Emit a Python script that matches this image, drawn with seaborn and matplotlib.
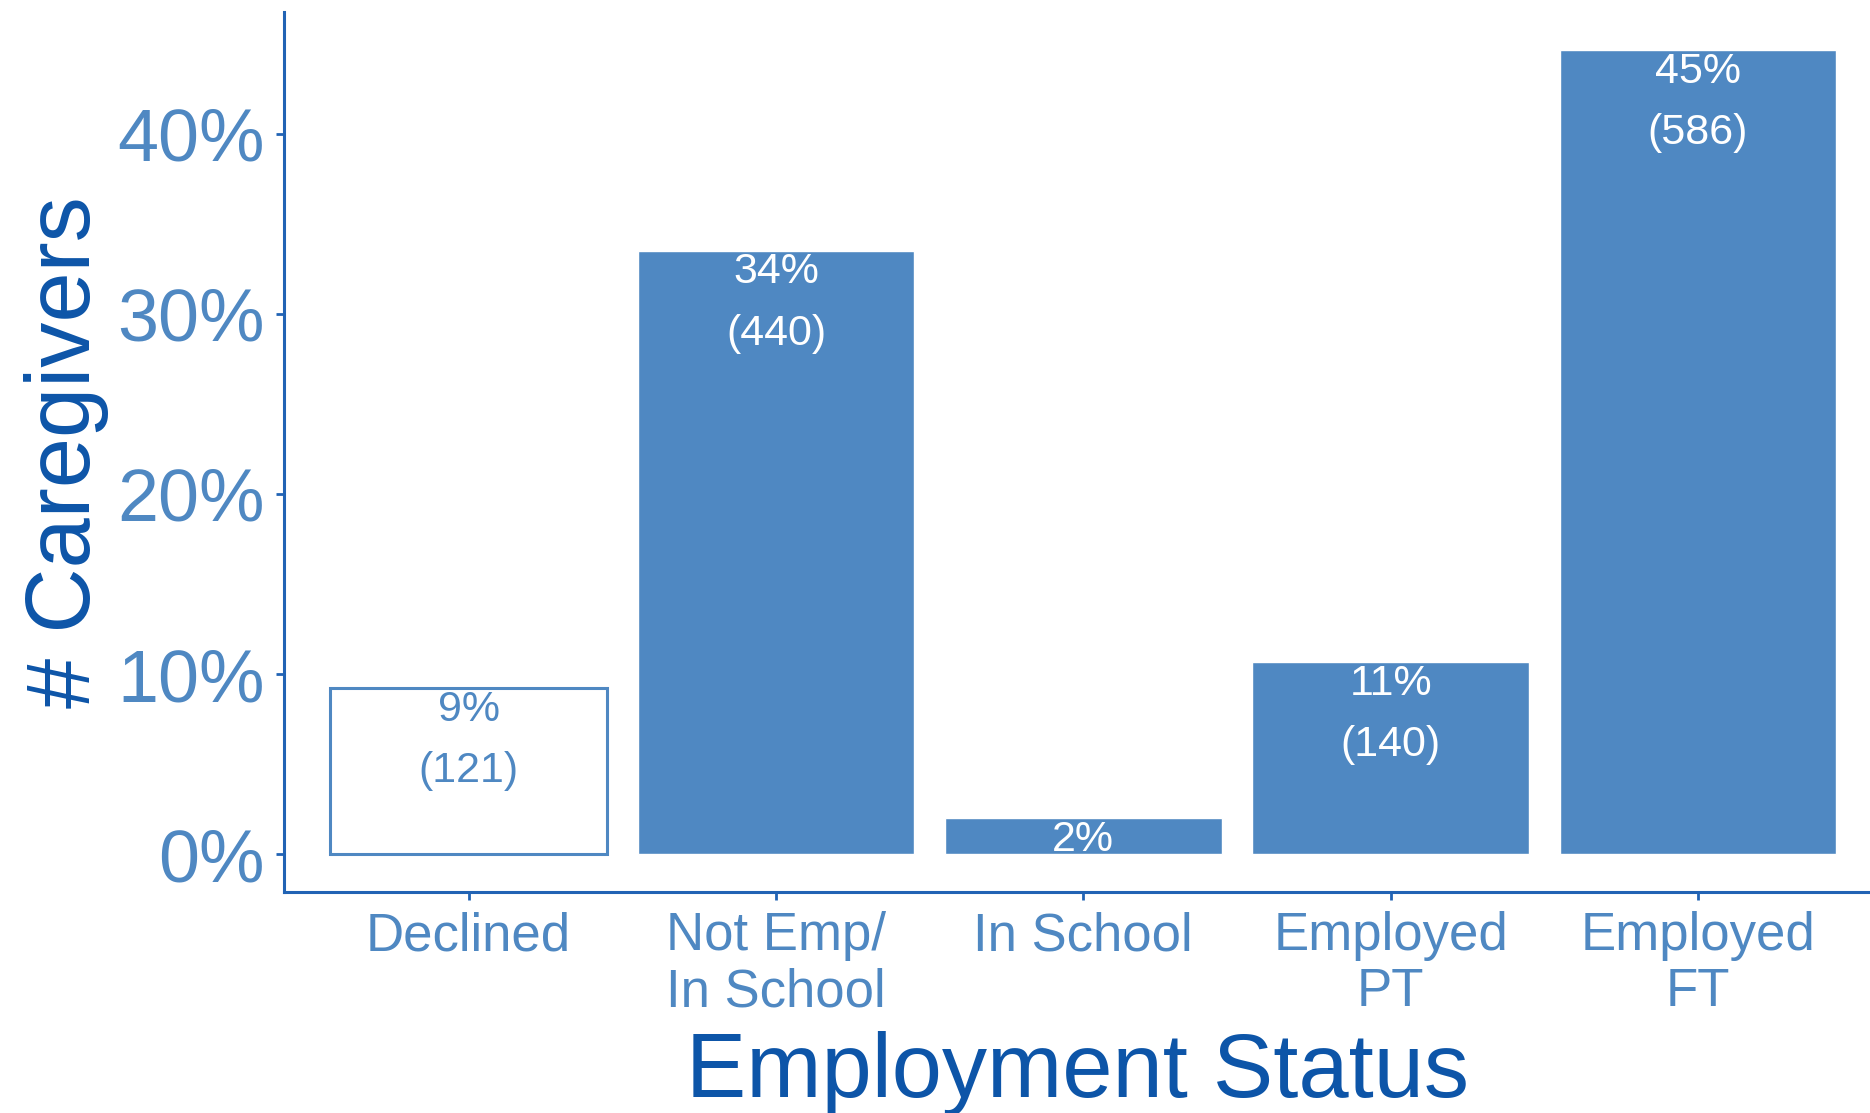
import seaborn as sns
import pandas as pd
import matplotlib.pyplot as plt
from matplotlib.ticker import FuncFormatter

# caregiver counts by employment status
categories = ['Declined', 'Not Emp/\nIn School', 'In School', 'Employed\nPT', 'Employed\nFT']
counts = [121, 440, 26, 140, 586]
show_count = [True, True, False, True, True]

total = sum(counts)
df = pd.DataFrame({'status': categories, 'count': counts})
df['pct'] = df['count'] / total * 100

bar_blue = '#4F88C2'
axis_blue = '#2163B4'
title_blue = '#0D55A8'

sns.set_style('white')
plt.rcParams['font.family'] = ['Liberation Sans', 'DejaVu Sans']

fig = plt.figure(figsize=(18.7, 11.13), dpi=100)
ax = fig.add_axes([0.152, 0.1986, 0.848, 0.7904])

sns.barplot(data=df, x='status', y='pct', color=bar_blue, saturation=1,
            width=0.9, ax=ax)

# the "Declined" bar is drawn hollow
declined = ax.patches[0]
declined.set_facecolor('white')
declined.set_edgecolor(bar_blue)
declined.set_linewidth(2.2)

for i, (p, n, show) in enumerate(zip(df['pct'], counts, show_count)):
    txt = f'{round(p)}%\n({n})' if show else f'{round(p)}%'
    col = bar_blue if i == 0 else 'white'
    ax.annotate(txt, xy=(i, p), xytext=(0, -1), textcoords='offset points',
                ha='center', va='top', fontsize=31, color=col, linespacing=1.7)

ax.set_xlim(-0.6, 4.56)
ax.set_ylim(-2.1, 46.75)
ax.set_yticks([0, 10, 20, 30, 40])
ax.yaxis.set_major_formatter(FuncFormatter(lambda v, _: f'{v:.0f}%'))

sns.despine(ax=ax)
for side in ['left', 'bottom']:
    ax.spines[side].set_color(axis_blue)
    ax.spines[side].set_linewidth(2.2)

ax.tick_params(axis='both', which='both', direction='out', length=6, width=2,
               color=axis_blue, labelcolor=bar_blue)
ax.tick_params(axis='y', labelsize=53, pad=8, left=True)
ax.tick_params(axis='x', labelsize=38, pad=8, bottom=True)
for lbl in ax.get_xticklabels():
    lbl.set_linespacing(1.15)

ax.set_xlabel('Employment Status', fontsize=65, color=title_blue, labelpad=10)
ax.set_ylabel('# Caregivers', fontsize=65, color=title_blue, labelpad=6)

fig.savefig('out.png', dpi=100)
